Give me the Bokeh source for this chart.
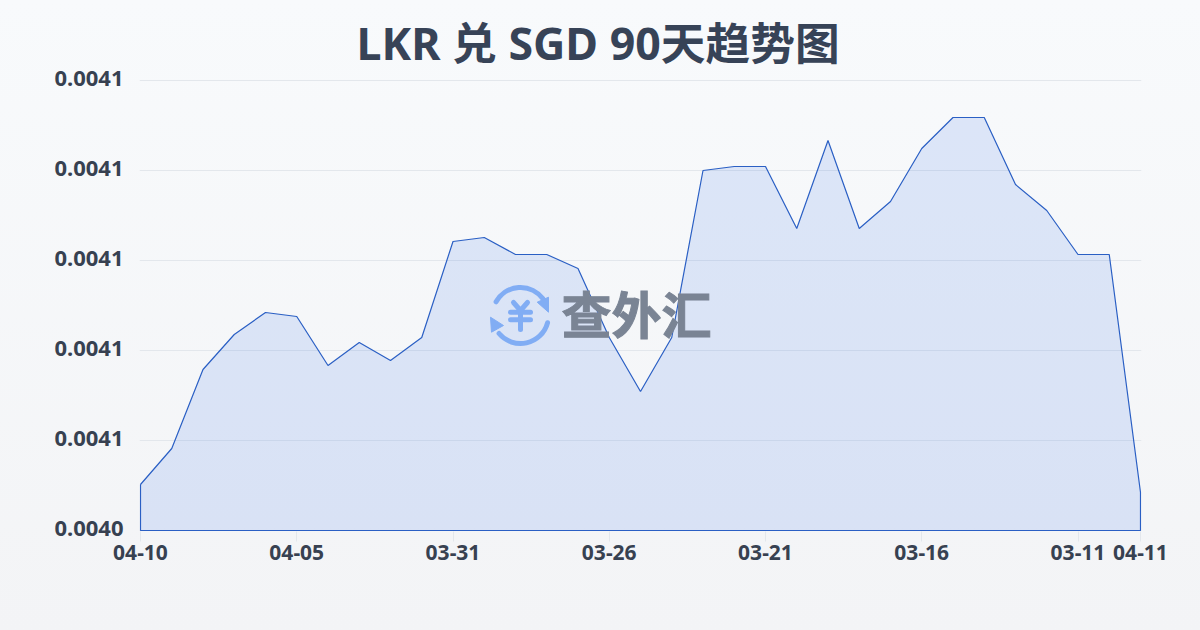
from bokeh.plotting import figure
from bokeh.embed import file_html
from bokeh.resources import INLINE
from bokeh.models import Range1d, FixedTicker, Label, ColumnDataSource, PrintfTickFormatter, LinearAxis

tick_labels = ["04-10", "04-05", "03-31", "03-26", "03-21", "03-16", "03-11", "04-11"]
tick_index = [0, 5, 10, 15, 20, 25, 30, 32]
rates = [0.00405022, 0.00405822, 0.00407578, 0.00408356, 0.00408844, 0.00408756, 0.00407667,
         0.00408178, 0.00407778, 0.00408289, 0.00410422, 0.00410511, 0.00410133, 0.00410133,
         0.00409822, 0.00408289, 0.00407089, 0.00408289, 0.00412000, 0.00412089, 0.00412089,
         0.00410711, 0.00412667, 0.00410711, 0.00411311, 0.00412489, 0.00413178, 0.00413178,
         0.00411689, 0.00411111, 0.00410133, 0.00410133, 0.00404844]
y_ticks = [0.00404, 0.00406, 0.00408, 0.00410, 0.00412, 0.00414]
days = list(range(len(rates)))
base = [y_ticks[0]] * len(rates)

# some pixels of slack round the plot so that edge lines and top label are kept
dx = 32 / 1000
dy = (y_ticks[-1] - y_ticks[0]) / 450

p = figure(width=1200, height=630, output_backend="svg", toolbar_location=None,
           x_range=Range1d(-dx, 32 + dx), y_range=Range1d(y_ticks[0] - dy, y_ticks[-1] + 4 * dy),
           y_axis_location=None,
           min_border_left=139, min_border_right=59, min_border_top=76, min_border_bottom=99)
p.styles = {"position": "fixed", "left": "0", "top": "0",
            "background": "linear-gradient(180deg,#f8fafc 0%,#f3f4f6 100%)"}
p.background_fill_alpha = 0
p.border_fill_alpha = 0
p.outline_line_color = None

p.title.text = "LKR 兑 SGD 90天趋势图"
p.title.text_font = "'Noto Sans','Noto Sans CJK SC'"
p.title.text_font_style = "bold"
p.title.text_font_size = "44.7px"
p.title.text_color = "#374357"
p.title.align = "left"
p.title.offset = 217
p.title.standoff = 7

# pixel helper range for the watermark
p.extra_x_ranges = {"px": Range1d(139, 1141)}
p.extra_y_ranges = {"px": Range1d(531, 76),
                    "lab": Range1d(y_ticks[0] - 3 * dy, y_ticks[-1] + 2 * dy)}
wm_blue = "#8fb8f6"
p.arc(x=[520, 520], y=[315, 315], radius=[28, 28], radius_units="screen",
      start_angle=[0.65, 3.84], end_angle=[2.63, 6.02], direction="anticlock",
      line_color=wm_blue, line_width=5, line_cap="round", x_range_name="px", y_range_name="px")
p.patches(xs=[[536.7, 548, 548], [490, 503, 491]], ys=[[301.7, 296.7, 311.7], [316.7, 325, 331.7]],
          fill_color=wm_blue, line_color=wm_blue, line_join="round", x_range_name="px", y_range_name="px")
p.multi_line(xs=[[513, 520, 527], [520, 520], [510, 530], [510, 530]],
             ys=[[302, 310, 302], [310, 329], [311.7, 311.7], [319.3, 319.3]],
             line_color=wm_blue, line_width=5, line_cap="round", x_range_name="px", y_range_name="px")
p.add_layout(Label(x=636, y=311, x_range_name="px", y_range_name="px", text="查外汇",
                   text_font="Noto Sans CJK SC", text_font_style="bold", text_font_size="50px",
                   text_color="#7a8494", text_outline_color="#7a8494",
                   text_align="center", text_baseline="middle"))

src = ColumnDataSource(dict(day=days, rate=rates, base=base))
p.varea(x="day", y1="base", y2="rate", source=src, fill_color="#2563eb", fill_alpha=0.13)
p.line(x=days + [days[-1], days[0], days[0]], y=rates + [base[-1], base[0], rates[0]],
       line_color="#2a5fc4", line_width=1.2)

p.xgrid.visible = False
p.ygrid.ticker = FixedTicker(ticks=y_ticks)
p.ygrid.grid_line_color = "#e3e7ec"
p.ygrid.grid_line_width = 1

p.xaxis.ticker = FixedTicker(ticks=tick_index)
p.xaxis.major_label_overrides = dict(zip(tick_index, tick_labels))
p.xaxis.major_label_text_font = "Noto Sans"
p.xaxis.major_label_text_font_style = "bold"
p.xaxis.major_label_text_font_size = "21px"
p.xaxis.major_label_text_color = "#374151"
p.xaxis.axis_line_color = None
p.xaxis.major_tick_line_color = "#e3e7ec"
p.xaxis.major_tick_in = 0
p.xaxis.major_tick_out = 10
p.xaxis.minor_tick_line_color = None
p.xaxis.major_label_standoff = 3

yax = LinearAxis(y_range_name="lab", ticker=FixedTicker(ticks=y_ticks),
                 formatter=PrintfTickFormatter(format="%.4f"))
yax.major_label_text_font = "Noto Sans"
yax.major_label_text_font_style = "bold"
yax.major_label_text_font_size = "22px"
yax.major_label_text_color = "#374151"
yax.axis_line_color = None
yax.major_tick_line_color = None
yax.minor_tick_line_color = None
yax.major_label_standoff = 10
p.add_layout(yax, "left")

open("out.html", "w").write(file_html(p, INLINE))
